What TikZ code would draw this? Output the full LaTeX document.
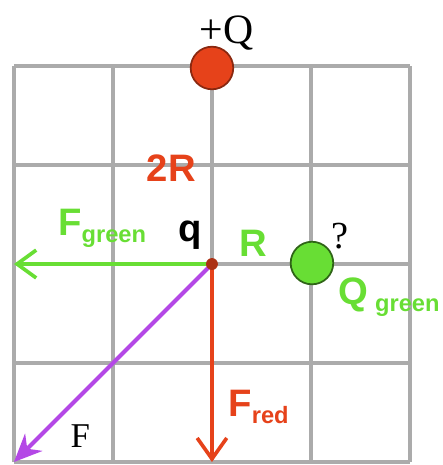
\documentclass[tikz,border=0pt]{standalone}
\usepackage{fontspec}
\setmainfont{Liberation Serif}
\setsansfont{Liberation Sans}
\usetikzlibrary{arrows.meta}
\definecolor{redQ}{RGB}{230,66,26}
\definecolor{greenQ}{RGB}{104,222,52}
\definecolor{purpleF}{RGB}{180,72,230}
\newcommand{\sfb}[1]{{\sffamily\bfseries\fontsize{11}{11}\selectfont #1}}
\newcommand{\subs}[1]{\raisebox{-2pt}{\sffamily\bfseries\fontsize{6.8}{7}\selectfont #1}}

\begin{document}
\begin{tikzpicture}[x=1cm,y=1cm,
  gridline/.style={line width=0.9pt, black!33},
  charge/.style={circle, minimum size=0.43cm, inner sep=0pt, line width=0.5pt},
  vec/.style={line width=1.05pt}]
\useasboundingbox (-0.141,-0.03) rectangle (4.333,4.667);
\draw[gridline] (0,0) grid (4,4);
% charges
\node[charge, fill=redQ, draw=redQ!60!black] (chargeQ) at (2,3.98) {};
\node[charge, fill=greenQ, draw=greenQ!45!black] (chargeG) at (3.01,2.01) {};
\coordinate (chargeq) at (2,2);
\coordinate (tipgreen) at (0,2);
\coordinate (tipred) at (2,0);
\coordinate (tipF) at (0,0);
% force vectors
\draw[vec, greenQ, -{Straight Barb[length=5.5pt,width=8pt]}] (chargeq) -- (tipgreen);
\draw[vec, redQ, -{Straight Barb[length=6pt,width=8.5pt]}] (chargeq) -- (tipred);
\draw[vec, purpleF, line width=1.2pt, -{Stealth[length=8pt,width=7pt]}] (chargeq) -- (tipF);
\fill[redQ!75!black] (chargeq) circle (0.06);
% labels
\node[anchor=base] (labQ) at (2.15,4.23) {\fontsize{12}{12}\selectfont +Q};
\node[anchor=base, text=redQ] (lab2R) at (1.59,2.83) {\sfb{2R}};
\node[anchor=base west, text=greenQ, inner sep=0pt] (labFg) at (0.44,2.29) {\sfb{F}\subs{green}};
\node[anchor=base] (labq) at (1.78,2.23) {\sfb{q}};
\node[anchor=base, text=greenQ] (labR) at (2.42,2.08) {\sfb{R}};
\node (labqm) at (3.29,2.28) {\fontsize{11}{11}\selectfont ?};
\node[anchor=base west, text=greenQ, inner sep=0pt] (labQg) at (3.27,1.59) {\sfb{Q}\hspace{2pt}\subs{green}};
\node[anchor=base west, text=redQ, inner sep=0pt] (labFr) at (2.16,0.455) {\sfb{F}\subs{red}};
\node[anchor=base] (labF) at (0.67,0.15) {\fontsize{10}{10}\selectfont F};
\end{tikzpicture}
\end{document}
